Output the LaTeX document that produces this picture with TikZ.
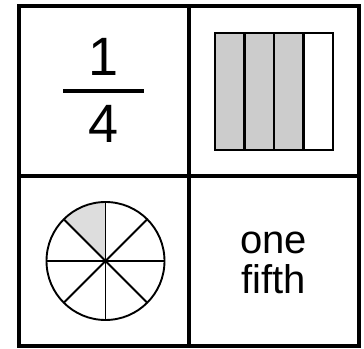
\documentclass[tikz,border=0pt]{standalone}
\usepackage{fontspec}
\setmainfont{Liberation Sans}
\usetikzlibrary{positioning}
\definecolor{barfill}{RGB}{204,204,204}
\definecolor{slicefill}{RGB}{221,221,221}
\tikzset{
  grid line/.style={line width=4pt},
  big digit/.style={
    anchor=base,
    inner sep=0pt,
    font=\fontsize{54}{54}\selectfont
  },
  word label/.style={
    align=center,
    inner sep=0pt,
    font=\fontsize{40}{40}\selectfont
  },
  bar part/.style={draw, line width=2.8pt},
  pie line/.style={line width=1.9pt}
}
\begin{document}
\begin{tikzpicture}[x=1pt,y=1pt]
  \useasboundingbox (0,0) rectangle (364,348);

  % Grid
  \draw[grid line] (18.5,2.5) rectangle (358.5,341.5);
  \draw[grid line] (188.5,2.5) -- (188.5,341.5);
  \draw[grid line] (18.5,172) -- (358.5,172);

  % Fraction 1/4
  \node[big digit] (num) at (103.5,272) {1};
  \node[big digit] (den) at (103.5,205) {4};
  \coordinate (barL) at (63,257);
  \coordinate (barR) at (144,257);
  \draw[line width=4pt] (barL) -- (barR);

  % Bar model, 3 of 4 shaded
  \fill[barfill] (215,198) rectangle (303.5,315);
  \draw[bar part] (215,198) rectangle (333,315);
  \foreach \x in {244.5,274,303.5} {
    \draw[bar part] (\x,198) -- (\x,315);
  }

  % Pie, 1 of 8 shaded
  \coordinate (pie) at (105.5,87);
  \fill[slicefill] (pie) -- ++(90:59) arc[start angle=90, end angle=135, radius=59] -- cycle;
  \draw[pie line] (pie) circle[radius=59];
  \foreach \a in {0,45,...,315} {
    \draw[pie line] (pie) -- ++(\a:59);
  }

  % Words
  \node[word label] (words) at (273.5,85.4) {one\\fifth};
\end{tikzpicture}
\end{document}
